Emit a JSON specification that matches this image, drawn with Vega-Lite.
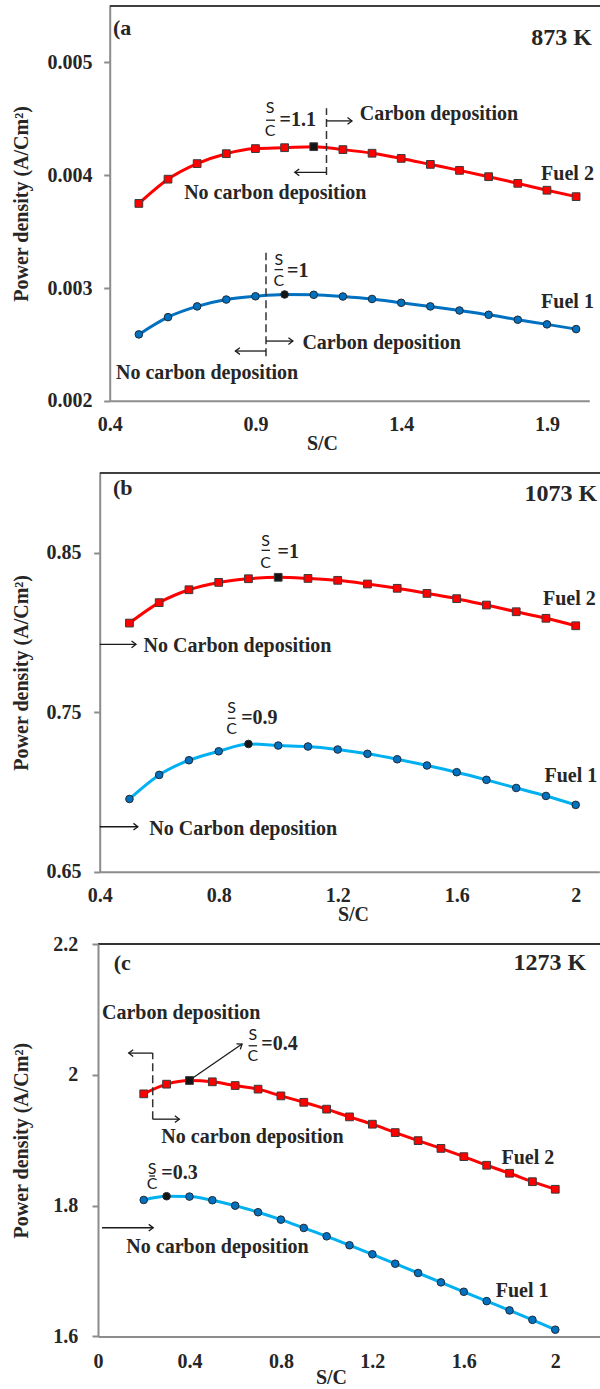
{
  "$schema": "https://vega.github.io/schema/vega-lite/v6.json",
  "background": "white",
  "padding": {"left": 10, "top": 5, "right": 0, "bottom": 0},
  "config": {
    "font": "Liberation Serif",
    "view": {"stroke": null},
    "axis": {"labelFont": "Liberation Serif", "labelFontSize": 20, "labelFontWeight": "bold", "labelColor": "#262626", "titleFont": "Liberation Serif", "titleFontSize": 20, "titleFontWeight": "bold", "titleColor": "#262626", "domainColor": "#8c8c8c", "domainWidth": 2, "tickColor": "#8c8c8c", "tickWidth": 2, "grid": false}
  },
  "datasets": {
    "pa": [
      {"fuel": "Fuel 1", "x": 0.5, "y": 0.002589, "opt": false}, {"fuel": "Fuel 1", "x": 0.6, "y": 0.002742, "opt": false}, {"fuel": "Fuel 1", "x": 0.7, "y": 0.002837, "opt": false}, {"fuel": "Fuel 1", "x": 0.8, "y": 0.002898, "opt": false}, {"fuel": "Fuel 1", "x": 0.9, "y": 0.002927, "opt": false}, {"fuel": "Fuel 1", "x": 1.0, "y": 0.002943, "opt": true}, {"fuel": "Fuel 1", "x": 1.1, "y": 0.00294, "opt": false}, {"fuel": "Fuel 1", "x": 1.2, "y": 0.002925, "opt": false}, {"fuel": "Fuel 1", "x": 1.3, "y": 0.002903, "opt": false}, {"fuel": "Fuel 1", "x": 1.4, "y": 0.002869, "opt": false}, {"fuel": "Fuel 1", "x": 1.5, "y": 0.002837, "opt": false}, {"fuel": "Fuel 1", "x": 1.6, "y": 0.002801, "opt": false}, {"fuel": "Fuel 1", "x": 1.7, "y": 0.002763, "opt": false}, {"fuel": "Fuel 1", "x": 1.8, "y": 0.002719, "opt": false}, {"fuel": "Fuel 1", "x": 1.9, "y": 0.002678, "opt": false}, {"fuel": "Fuel 1", "x": 2.0, "y": 0.002636, "opt": false},
      {"fuel": "Fuel 2", "x": 0.5, "y": 0.00375, "opt": false}, {"fuel": "Fuel 2", "x": 0.6, "y": 0.003965, "opt": false}, {"fuel": "Fuel 2", "x": 0.7, "y": 0.004103, "opt": false}, {"fuel": "Fuel 2", "x": 0.8, "y": 0.004191, "opt": false}, {"fuel": "Fuel 2", "x": 0.9, "y": 0.004236, "opt": false}, {"fuel": "Fuel 2", "x": 1.0, "y": 0.004244, "opt": false}, {"fuel": "Fuel 2", "x": 1.1, "y": 0.004253, "opt": true}, {"fuel": "Fuel 2", "x": 1.2, "y": 0.004227, "opt": false}, {"fuel": "Fuel 2", "x": 1.3, "y": 0.004195, "opt": false}, {"fuel": "Fuel 2", "x": 1.4, "y": 0.004149, "opt": false}, {"fuel": "Fuel 2", "x": 1.5, "y": 0.004096, "opt": false}, {"fuel": "Fuel 2", "x": 1.6, "y": 0.004043, "opt": false}, {"fuel": "Fuel 2", "x": 1.7, "y": 0.003987, "opt": false}, {"fuel": "Fuel 2", "x": 1.8, "y": 0.003928, "opt": false}, {"fuel": "Fuel 2", "x": 1.9, "y": 0.003867, "opt": false}, {"fuel": "Fuel 2", "x": 2.0, "y": 0.00381, "opt": false}
    ],
    "pb": [
      {"fuel": "Fuel 1", "x": 0.5, "y": 0.6956, "opt": false}, {"fuel": "Fuel 1", "x": 0.6, "y": 0.7107, "opt": false}, {"fuel": "Fuel 1", "x": 0.7, "y": 0.7199, "opt": false}, {"fuel": "Fuel 1", "x": 0.8, "y": 0.7255, "opt": false}, {"fuel": "Fuel 1", "x": 0.9, "y": 0.7301, "opt": true}, {"fuel": "Fuel 1", "x": 1.0, "y": 0.7291, "opt": false}, {"fuel": "Fuel 1", "x": 1.1, "y": 0.7285, "opt": false}, {"fuel": "Fuel 1", "x": 1.2, "y": 0.7266, "opt": false}, {"fuel": "Fuel 1", "x": 1.3, "y": 0.7239, "opt": false}, {"fuel": "Fuel 1", "x": 1.4, "y": 0.7205, "opt": false}, {"fuel": "Fuel 1", "x": 1.5, "y": 0.7166, "opt": false}, {"fuel": "Fuel 1", "x": 1.6, "y": 0.7124, "opt": false}, {"fuel": "Fuel 1", "x": 1.7, "y": 0.7076, "opt": false}, {"fuel": "Fuel 1", "x": 1.8, "y": 0.7025, "opt": false}, {"fuel": "Fuel 1", "x": 1.9, "y": 0.6975, "opt": false}, {"fuel": "Fuel 1", "x": 2.0, "y": 0.6919, "opt": false},
      {"fuel": "Fuel 2", "x": 0.5, "y": 0.8059, "opt": false}, {"fuel": "Fuel 2", "x": 0.6, "y": 0.8187, "opt": false}, {"fuel": "Fuel 2", "x": 0.7, "y": 0.8268, "opt": false}, {"fuel": "Fuel 2", "x": 0.8, "y": 0.8314, "opt": false}, {"fuel": "Fuel 2", "x": 0.9, "y": 0.8337, "opt": false}, {"fuel": "Fuel 2", "x": 1.0, "y": 0.8346, "opt": true}, {"fuel": "Fuel 2", "x": 1.1, "y": 0.8339, "opt": false}, {"fuel": "Fuel 2", "x": 1.2, "y": 0.8327, "opt": false}, {"fuel": "Fuel 2", "x": 1.3, "y": 0.8304, "opt": false}, {"fuel": "Fuel 2", "x": 1.4, "y": 0.8277, "opt": false}, {"fuel": "Fuel 2", "x": 1.5, "y": 0.8245, "opt": false}, {"fuel": "Fuel 2", "x": 1.6, "y": 0.8212, "opt": false}, {"fuel": "Fuel 2", "x": 1.7, "y": 0.8172, "opt": false}, {"fuel": "Fuel 2", "x": 1.8, "y": 0.813, "opt": false}, {"fuel": "Fuel 2", "x": 1.9, "y": 0.8089, "opt": false}, {"fuel": "Fuel 2", "x": 2.0, "y": 0.8042, "opt": false}
    ],
    "pc": [
      {"fuel": "Fuel 1", "x": 0.2, "y": 1.8087, "opt": false}, {"fuel": "Fuel 1", "x": 0.3, "y": 1.8144, "opt": true}, {"fuel": "Fuel 1", "x": 0.4, "y": 1.8138, "opt": false}, {"fuel": "Fuel 1", "x": 0.5, "y": 1.8083, "opt": false}, {"fuel": "Fuel 1", "x": 0.6, "y": 1.8, "opt": false}, {"fuel": "Fuel 1", "x": 0.7, "y": 1.7899, "opt": false}, {"fuel": "Fuel 1", "x": 0.8, "y": 1.7786, "opt": false}, {"fuel": "Fuel 1", "x": 0.9, "y": 1.7659, "opt": false}, {"fuel": "Fuel 1", "x": 1.0, "y": 1.7531, "opt": false}, {"fuel": "Fuel 1", "x": 1.1, "y": 1.7394, "opt": false}, {"fuel": "Fuel 1", "x": 1.2, "y": 1.7256, "opt": false}, {"fuel": "Fuel 1", "x": 1.3, "y": 1.7112, "opt": false}, {"fuel": "Fuel 1", "x": 1.4, "y": 1.697, "opt": false}, {"fuel": "Fuel 1", "x": 1.5, "y": 1.6827, "opt": false}, {"fuel": "Fuel 1", "x": 1.6, "y": 1.6683, "opt": false}, {"fuel": "Fuel 1", "x": 1.7, "y": 1.654, "opt": false}, {"fuel": "Fuel 1", "x": 1.8, "y": 1.6398, "opt": false}, {"fuel": "Fuel 1", "x": 1.9, "y": 1.6254, "opt": false}, {"fuel": "Fuel 1", "x": 2.0, "y": 1.6103, "opt": false},
      {"fuel": "Fuel 2", "x": 0.2, "y": 1.9709, "opt": false}, {"fuel": "Fuel 2", "x": 0.3, "y": 1.9857, "opt": false}, {"fuel": "Fuel 2", "x": 0.4, "y": 1.9913, "opt": true}, {"fuel": "Fuel 2", "x": 0.5, "y": 1.9893, "opt": false}, {"fuel": "Fuel 2", "x": 0.6, "y": 1.9836, "opt": false}, {"fuel": "Fuel 2", "x": 0.7, "y": 1.9781, "opt": false}, {"fuel": "Fuel 2", "x": 0.8, "y": 1.9678, "opt": false}, {"fuel": "Fuel 2", "x": 0.9, "y": 1.958, "opt": false}, {"fuel": "Fuel 2", "x": 1.0, "y": 1.9475, "opt": false}, {"fuel": "Fuel 2", "x": 1.1, "y": 1.9357, "opt": false}, {"fuel": "Fuel 2", "x": 1.2, "y": 1.9245, "opt": false}, {"fuel": "Fuel 2", "x": 1.3, "y": 1.9117, "opt": false}, {"fuel": "Fuel 2", "x": 1.4, "y": 1.8994, "opt": false}, {"fuel": "Fuel 2", "x": 1.5, "y": 1.8875, "opt": false}, {"fuel": "Fuel 2", "x": 1.6, "y": 1.8749, "opt": false}, {"fuel": "Fuel 2", "x": 1.7, "y": 1.8617, "opt": false}, {"fuel": "Fuel 2", "x": 1.8, "y": 1.8495, "opt": false}, {"fuel": "Fuel 2", "x": 1.9, "y": 1.8366, "opt": false}, {"fuel": "Fuel 2", "x": 2.0, "y": 1.825, "opt": false}
    ],
    "ra": [
      {"kind": "frame", "x": 0.4, "x2": 2.086, "y": 0.0055},
      {"kind": "dash", "x": 1.1437, "y": 0.0040018, "y2": 0.0045936},
      {"kind": "dash", "x": 0.9362, "y": 0.002395, "y2": 0.0033136},
      {"kind": "arrow", "x": 1.1437, "y": 0.0044815, "x2": 1.2312, "y2": 0.0044815},
      {"kind": "arrow", "x": 1.1437, "y": 0.0040256, "x2": 1.035, "y2": 0.0040256},
      {"kind": "arrow", "x": 0.9362, "y": 0.00253, "x2": 1.0285, "y2": 0.00253},
      {"kind": "arrow", "x": 0.9362, "y": 0.0024417, "x2": 0.8312, "y2": 0.0024417},
      {"kind": "bar", "x": 0.9363, "x2": 0.9672, "y": 0.0044876},
      {"kind": "bar", "x": 0.9654, "x2": 0.9945, "y": 0.0031634}
    ],
    "ha": [
      {"dir": "right", "x": 1.2312, "y": 0.0044815},
      {"dir": "left", "x": 1.035, "y": 0.0040256},
      {"dir": "right", "x": 1.0285, "y": 0.00253},
      {"dir": "left", "x": 0.8312, "y": 0.0024417}
    ],
    "ta": [
      {"kind": "tag", "x": 0.4113, "y": 0.0052429, "t": "(a"},
      {"kind": "temp", "x": 2.0546, "y": 0.0051502, "t": "873 K"},
      {"kind": "note", "x": 1.258, "y": 0.0044876, "t": "Carbon deposition"},
      {"kind": "note", "x": 0.6554, "y": 0.0037871, "t": "No carbon deposition"},
      {"kind": "note", "x": 1.88, "y": 0.0039576, "t": "Fuel 2"},
      {"kind": "note", "x": 1.88, "y": 0.002819, "t": "Fuel 1"},
      {"kind": "note", "x": 0.9825, "y": 0.0044346, "t": "=1.1"},
      {"kind": "note", "x": 1.0083, "y": 0.0030989, "t": "=1"},
      {"kind": "note", "x": 1.061, "y": 0.0024567, "t": "Carbon deposition"},
      {"kind": "note", "x": 0.4216, "y": 0.0021935, "t": "No carbon deposition"},
      {"kind": "frac", "x": 0.95, "y": 0.0045495, "t": "S"},
      {"kind": "frac", "x": 0.95, "y": 0.0043463, "t": "C"},
      {"kind": "frac", "x": 0.98, "y": 0.0032076, "t": "S"},
      {"kind": "frac", "x": 0.98, "y": 0.0030221, "t": "C"}
    ],
    "rb": [
      {"kind": "frame", "x": 0.4, "x2": 2.0845, "y": 0.9},
      {"kind": "arrow", "x": 0.4, "y": 0.79257, "x2": 0.522, "y2": 0.79257},
      {"kind": "arrow", "x": 0.4, "y": 0.6782, "x2": 0.5284, "y2": 0.6782},
      {"kind": "bar", "x": 0.9439, "x2": 0.9724, "y": 0.8515},
      {"kind": "bar", "x": 0.8306, "x2": 0.8561, "y": 0.7462}
    ],
    "hb": [
      {"dir": "right", "x": 0.522, "y": 0.79257},
      {"dir": "right", "x": 0.5284, "y": 0.6782}
    ],
    "tb": [
      {"kind": "tag", "x": 0.4447, "y": 0.8862, "t": "(b"},
      {"kind": "temp", "x": 2.072, "y": 0.8824, "t": "1073 K"},
      {"kind": "note", "x": 0.5476, "y": 0.7879, "t": "No Carbon deposition"},
      {"kind": "note", "x": 1.89, "y": 0.8172, "t": "Fuel 2"},
      {"kind": "note", "x": 0.8756, "y": 0.7424, "t": "=0.9"},
      {"kind": "note", "x": 0.9977, "y": 0.8465, "t": "=1"},
      {"kind": "note", "x": 0.5667, "y": 0.673, "t": "No Carbon deposition"},
      {"kind": "note", "x": 1.895, "y": 0.7064, "t": "Fuel 1"},
      {"kind": "frac", "x": 0.958, "y": 0.8542, "t": "S"},
      {"kind": "frac", "x": 0.958, "y": 0.8406, "t": "C"},
      {"kind": "frac", "x": 0.8434, "y": 0.7497, "t": "S"},
      {"kind": "frac", "x": 0.8434, "y": 0.7361, "t": "C"}
    ],
    "rc": [
      {"kind": "dash", "x": 0.2393, "y": 1.9322, "y2": 2.0332},
      {"kind": "arrow", "x": 0.2393, "y": 2.0332, "x2": 0.1343, "y2": 2.0332},
      {"kind": "arrow", "x": 0.2393, "y": 1.9322, "x2": 0.3557, "y2": 1.9322},
      {"kind": "arrow", "x": 0.0175, "y": 1.7662, "x2": 0.2415, "y2": 1.7662},
      {"kind": "arrow", "x": 0.4143, "y": 1.995, "x2": 0.63, "y2": 2.047},
      {"kind": "bar", "x": 0.659, "x2": 0.6955, "y": 2.0444},
      {"kind": "bar", "x": 0.2244, "x2": 0.2493, "y": 1.8453},
      {"kind": "frame", "x": 2.2, "y": 1.6, "y2": 2.2}
    ],
    "hc": [
      {"dir": "left", "x": 0.1343, "y": 2.0332},
      {"dir": "right", "x": 0.3557, "y": 1.9322},
      {"dir": "right", "x": 0.2415, "y": 1.7662},
      {"dir": "diag", "x": 0.63, "y": 2.047}
    ],
    "tc": [
      {"kind": "tag", "x": 0.0687, "y": 2.1597, "t": "(c"},
      {"kind": "temp", "x": 2.1347, "y": 2.1608, "t": "1273 K"},
      {"kind": "note", "x": 0.0175, "y": 2.0853, "t": "Carbon deposition"},
      {"kind": "note", "x": 0.277, "y": 1.8963, "t": "No carbon deposition"},
      {"kind": "note", "x": 0.7143, "y": 2.0372, "t": "=0.4"},
      {"kind": "note", "x": 1.7647, "y": 1.8637, "t": "Fuel 2"},
      {"kind": "note", "x": 0.277, "y": 1.8403, "t": "=0.3"},
      {"kind": "note", "x": 0.124, "y": 1.7279, "t": "No carbon deposition"},
      {"kind": "note", "x": 1.7397, "y": 1.6605, "t": "Fuel 1"},
      {"kind": "frac", "x": 0.677, "y": 2.0536, "t": "S"},
      {"kind": "frac", "x": 0.677, "y": 2.0204, "t": "C"},
      {"kind": "frac", "x": 0.237, "y": 1.8484, "t": "S"},
      {"kind": "frac", "x": 0.237, "y": 1.825, "t": "C"}
    ]
  },
  "bounds": "flush",
  "center": true,
  "spacing": 72,
  "vconcat": [
    {
      "width": 479.6, "height": 394.85,
      "encoding": {
        "x": {"field": "x", "type": "quantitative", "scale": {"domain": [0.4, 2.0453], "nice": false, "zero": false},
              "axis": {"values": [0.4, 0.9, 1.4, 1.9], "format": "~g", "ticks": false, "labelPadding": 14, "labelFlush": false, "title": "S/C", "titleX": 212.3, "titleY": 48.3, "titleBaseline": "alphabetic"}},
        "y": {"field": "y", "type": "quantitative", "scale": {"domain": [0.002, 0.0055], "nice": false, "zero": false},
              "axis": {"values": [0.002, 0.003, 0.004, 0.005], "format": ".3f", "tickSize": 6, "labelPadding": 11.7, "title": "Power density (A/Cm²)", "titleX": -82, "titleBaseline": "alphabetic"}}
      },
      "layer": [
        {"data": {"name": "ra"}, "transform": [{"filter": "datum.kind === 'frame'"}],
         "mark": {"type": "rule", "color": "#404040", "strokeWidth": 2},
         "encoding": {"x2": {"field": "x2"}}},
        {"data": {"name": "pa"}, "transform": [{"filter": "datum.fuel === 'Fuel 1'"}],
         "mark": {"type": "line", "color": "#0070C0", "strokeWidth": 3, "interpolate": "monotone"}},
        {"data": {"name": "pa"}, "transform": [{"filter": "datum.fuel === 'Fuel 2'"}],
         "mark": {"type": "line", "color": "#FF0000", "strokeWidth": 3, "interpolate": "monotone"}},
        {"data": {"name": "pa"}, "transform": [{"filter": "datum.fuel === 'Fuel 1'"}],
         "mark": {"type": "point", "shape": "circle", "filled": true, "size": 58, "stroke": "#1f2a36", "strokeWidth": 1, "opacity": 1},
         "encoding": {"fill": {"condition": {"test": "datum.opt", "value": "#141414"}, "value": "#0070C0"}}},
        {"data": {"name": "pa"}, "transform": [{"filter": "datum.fuel === 'Fuel 2'"}],
         "mark": {"type": "point", "shape": "square", "filled": true, "size": 60, "stroke": "#3a3a3a", "strokeWidth": 1, "opacity": 1},
         "encoding": {"fill": {"condition": {"test": "datum.opt", "value": "#141414"}, "value": "#FF0000"}}},
        {"data": {"name": "ra"}, "transform": [{"filter": "datum.kind === 'dash'"}],
         "mark": {"type": "rule", "color": "#333333", "strokeWidth": 1.5, "strokeDash": [8, 4]},
         "encoding": {"y2": {"field": "y2"}}},
        {"data": {"name": "ra"}, "transform": [{"filter": "datum.kind === 'arrow'"}],
         "mark": {"type": "rule", "color": "#1a1a1a", "strokeWidth": 1.3},
         "encoding": {"x2": {"field": "x2"}, "y2": {"field": "y2"}}},
        {"data": {"name": "ra"}, "transform": [{"filter": "datum.kind === 'bar'"}],
         "mark": {"type": "rule", "color": "#222222", "strokeWidth": 1.3},
         "encoding": {"x2": {"field": "x2"}}},
        {"data": {"name": "ha"}, "transform": [{"filter": "datum.dir === 'right'"}],
         "mark": {"type": "point", "shape": "M-0.75,1L0,0L0.75,1", "filled": false, "size": 80, "angle": 90, "stroke": "#1a1a1a", "strokeWidth": 1.3, "opacity": 1}},
        {"data": {"name": "ha"}, "transform": [{"filter": "datum.dir === 'left'"}],
         "mark": {"type": "point", "shape": "M-0.75,1L0,0L0.75,1", "filled": false, "size": 80, "angle": 270, "stroke": "#1a1a1a", "strokeWidth": 1.3, "opacity": 1}},
        {"data": {"name": "ta"}, "transform": [{"filter": "datum.kind === 'note'"}],
         "mark": {"type": "text", "align": "left", "baseline": "alphabetic", "font": "Liberation Serif", "fontWeight": "bold", "fontSize": 20, "color": "#262626"},
         "encoding": {"text": {"field": "t"}}},
        {"data": {"name": "ta"}, "transform": [{"filter": "datum.kind === 'tag'"}],
         "mark": {"type": "text", "align": "left", "baseline": "alphabetic", "font": "Liberation Serif", "fontWeight": "bold", "fontSize": 22, "color": "#262626"},
         "encoding": {"text": {"field": "t"}}},
        {"data": {"name": "ta"}, "transform": [{"filter": "datum.kind === 'temp'"}],
         "mark": {"type": "text", "align": "right", "baseline": "alphabetic", "font": "Liberation Serif", "fontWeight": "bold", "fontSize": 24, "color": "#262626"},
         "encoding": {"text": {"field": "t"}}},
        {"data": {"name": "ta"}, "transform": [{"filter": "datum.kind === 'frac'"}],
         "mark": {"type": "text", "align": "center", "baseline": "alphabetic", "font": "Lato", "fontSize": 16, "color": "#1a1a1a"},
         "encoding": {"text": {"field": "t"}}}
      ]
    },
    {
      "width": 499.6, "height": 398.7,
      "encoding": {
        "x": {"field": "x", "type": "quantitative", "scale": {"domain": [0.4, 2.0793], "nice": false, "zero": false},
              "axis": {"values": [0.4, 0.8, 1.2, 1.6, 2], "format": "~g", "ticks": false, "labelPadding": 14, "labelFlush": false, "title": "S/C", "titleX": 253.3, "titleY": 48.3, "titleBaseline": "alphabetic"}},
        "y": {"field": "y", "type": "quantitative", "scale": {"domain": [0.65, 0.9], "nice": false, "zero": false},
              "axis": {"values": [0.65, 0.75, 0.85], "format": ".2f", "tickSize": 6, "labelPadding": 12.7, "title": "Power density (A/Cm²)", "titleX": -72, "titleBaseline": "alphabetic"}}
      },
      "layer": [
        {"data": {"name": "rb"}, "transform": [{"filter": "datum.kind === 'frame'"}],
         "mark": {"type": "rule", "color": "#404040", "strokeWidth": 2},
         "encoding": {"x2": {"field": "x2"}}},
        {"data": {"name": "pb"}, "transform": [{"filter": "datum.fuel === 'Fuel 1'"}],
         "mark": {"type": "line", "color": "#00B0F0", "strokeWidth": 3, "interpolate": "monotone"}},
        {"data": {"name": "pb"}, "transform": [{"filter": "datum.fuel === 'Fuel 2'"}],
         "mark": {"type": "line", "color": "#FF0000", "strokeWidth": 3, "interpolate": "monotone"}},
        {"data": {"name": "pb"}, "transform": [{"filter": "datum.fuel === 'Fuel 1'"}],
         "mark": {"type": "point", "shape": "circle", "filled": true, "size": 58, "stroke": "#1f2a36", "strokeWidth": 1, "opacity": 1},
         "encoding": {"fill": {"condition": {"test": "datum.opt", "value": "#141414"}, "value": "#0070C0"}}},
        {"data": {"name": "pb"}, "transform": [{"filter": "datum.fuel === 'Fuel 2'"}],
         "mark": {"type": "point", "shape": "square", "filled": true, "size": 60, "stroke": "#3a3a3a", "strokeWidth": 1, "opacity": 1},
         "encoding": {"fill": {"condition": {"test": "datum.opt", "value": "#141414"}, "value": "#FF0000"}}},
        {"data": {"name": "rb"}, "transform": [{"filter": "datum.kind === 'arrow'"}],
         "mark": {"type": "rule", "color": "#1a1a1a", "strokeWidth": 1.3},
         "encoding": {"x2": {"field": "x2"}, "y2": {"field": "y2"}}},
        {"data": {"name": "rb"}, "transform": [{"filter": "datum.kind === 'bar'"}],
         "mark": {"type": "rule", "color": "#222222", "strokeWidth": 1.3},
         "encoding": {"x2": {"field": "x2"}}},
        {"data": {"name": "hb"}, "transform": [{"filter": "datum.dir === 'right'"}],
         "mark": {"type": "point", "shape": "M-0.75,1L0,0L0.75,1", "filled": false, "size": 80, "angle": 90, "stroke": "#1a1a1a", "strokeWidth": 1.3, "opacity": 1}},
        {"data": {"name": "tb"}, "transform": [{"filter": "datum.kind === 'note'"}],
         "mark": {"type": "text", "align": "left", "baseline": "alphabetic", "font": "Liberation Serif", "fontWeight": "bold", "fontSize": 20, "color": "#262626"},
         "encoding": {"text": {"field": "t"}}},
        {"data": {"name": "tb"}, "transform": [{"filter": "datum.kind === 'tag'"}],
         "mark": {"type": "text", "align": "left", "baseline": "alphabetic", "font": "Liberation Serif", "fontWeight": "bold", "fontSize": 22, "color": "#262626"},
         "encoding": {"text": {"field": "t"}}},
        {"data": {"name": "tb"}, "transform": [{"filter": "datum.kind === 'temp'"}],
         "mark": {"type": "text", "align": "right", "baseline": "alphabetic", "font": "Liberation Serif", "fontWeight": "bold", "fontSize": 24, "color": "#262626"},
         "encoding": {"text": {"field": "t"}}},
        {"data": {"name": "tb"}, "transform": [{"filter": "datum.kind === 'frac'"}],
         "mark": {"type": "text", "align": "center", "baseline": "alphabetic", "font": "Lato", "fontSize": 16, "color": "#1a1a1a"},
         "encoding": {"text": {"field": "t"}}}
      ]
    },
    {
      "width": 503, "height": 392.45,
      "view": {"stroke": "#333333", "strokeWidth": 2, "strokeDash": [503, 3000]},
      "encoding": {
        "x": {"field": "x", "type": "quantitative", "scale": {"domain": [0, 2.2], "nice": false, "zero": false},
              "axis": {"values": [0, 0.4, 0.8, 1.2, 1.6, 2], "format": "~g", "ticks": false, "labelPadding": 15, "labelFlush": false, "title": "S/C", "titleX": 233, "titleY": 47, "titleBaseline": "alphabetic"}},
        "y": {"field": "y", "type": "quantitative", "scale": {"domain": [1.6, 2.2], "nice": false, "zero": false},
              "axis": {"values": [1.6, 1.8, 2, 2.2], "format": "~g", "tickSize": 6, "labelPadding": 14.3, "title": "Power density (A/Cm²)", "titleX": -70.3, "titleBaseline": "alphabetic"}}
      },
      "layer": [
        {"data": {"name": "rc"}, "transform": [{"filter": "datum.kind === 'frame'"}],
         "mark": {"type": "rule", "color": "#c4c4c4", "strokeWidth": 1.2},
         "encoding": {"y2": {"field": "y2"}}},
        {"data": {"name": "pc"}, "transform": [{"filter": "datum.fuel === 'Fuel 1'"}],
         "mark": {"type": "line", "color": "#00B0F0", "strokeWidth": 3, "interpolate": "monotone"}},
        {"data": {"name": "pc"}, "transform": [{"filter": "datum.fuel === 'Fuel 2'"}],
         "mark": {"type": "line", "color": "#FF0000", "strokeWidth": 3, "interpolate": "monotone"}},
        {"data": {"name": "pc"}, "transform": [{"filter": "datum.fuel === 'Fuel 1'"}],
         "mark": {"type": "point", "shape": "circle", "filled": true, "size": 58, "stroke": "#1f2a36", "strokeWidth": 1, "opacity": 1},
         "encoding": {"fill": {"condition": {"test": "datum.opt", "value": "#141414"}, "value": "#0070C0"}}},
        {"data": {"name": "pc"}, "transform": [{"filter": "datum.fuel === 'Fuel 2'"}],
         "mark": {"type": "point", "shape": "square", "filled": true, "size": 60, "stroke": "#3a3a3a", "strokeWidth": 1, "opacity": 1},
         "encoding": {"fill": {"condition": {"test": "datum.opt", "value": "#141414"}, "value": "#FF0000"}}},
        {"data": {"name": "rc"}, "transform": [{"filter": "datum.kind === 'dash'"}],
         "mark": {"type": "rule", "color": "#333333", "strokeWidth": 1.5, "strokeDash": [8, 4]},
         "encoding": {"y2": {"field": "y2"}}},
        {"data": {"name": "rc"}, "transform": [{"filter": "datum.kind === 'arrow'"}],
         "mark": {"type": "rule", "color": "#1a1a1a", "strokeWidth": 1.3},
         "encoding": {"x2": {"field": "x2"}, "y2": {"field": "y2"}}},
        {"data": {"name": "rc"}, "transform": [{"filter": "datum.kind === 'bar'"}],
         "mark": {"type": "rule", "color": "#222222", "strokeWidth": 1.3},
         "encoding": {"x2": {"field": "x2"}}},
        {"data": {"name": "hc"}, "transform": [{"filter": "datum.dir === 'right'"}],
         "mark": {"type": "point", "shape": "M-0.75,1L0,0L0.75,1", "filled": false, "size": 80, "angle": 90, "stroke": "#1a1a1a", "strokeWidth": 1.3, "opacity": 1}},
        {"data": {"name": "hc"}, "transform": [{"filter": "datum.dir === 'left'"}],
         "mark": {"type": "point", "shape": "M-0.75,1L0,0L0.75,1", "filled": false, "size": 80, "angle": 270, "stroke": "#1a1a1a", "strokeWidth": 1.3, "opacity": 1}},
        {"data": {"name": "hc"}, "transform": [{"filter": "datum.dir === 'diag'"}],
         "mark": {"type": "point", "shape": "M-0.75,1L0,0L0.75,1", "filled": false, "size": 80, "angle": 55, "stroke": "#1a1a1a", "strokeWidth": 1.3, "opacity": 1}},
        {"data": {"name": "tc"}, "transform": [{"filter": "datum.kind === 'note'"}],
         "mark": {"type": "text", "align": "left", "baseline": "alphabetic", "font": "Liberation Serif", "fontWeight": "bold", "fontSize": 20, "color": "#262626"},
         "encoding": {"text": {"field": "t"}}},
        {"data": {"name": "tc"}, "transform": [{"filter": "datum.kind === 'tag'"}],
         "mark": {"type": "text", "align": "left", "baseline": "alphabetic", "font": "Liberation Serif", "fontWeight": "bold", "fontSize": 22, "color": "#262626"},
         "encoding": {"text": {"field": "t"}}},
        {"data": {"name": "tc"}, "transform": [{"filter": "datum.kind === 'temp'"}],
         "mark": {"type": "text", "align": "right", "baseline": "alphabetic", "font": "Liberation Serif", "fontWeight": "bold", "fontSize": 24, "color": "#262626"},
         "encoding": {"text": {"field": "t"}}},
        {"data": {"name": "tc"}, "transform": [{"filter": "datum.kind === 'frac'"}],
         "mark": {"type": "text", "align": "center", "baseline": "alphabetic", "font": "Lato", "fontSize": 16, "color": "#1a1a1a"},
         "encoding": {"text": {"field": "t"}}}
      ]
    }
  ]
}
